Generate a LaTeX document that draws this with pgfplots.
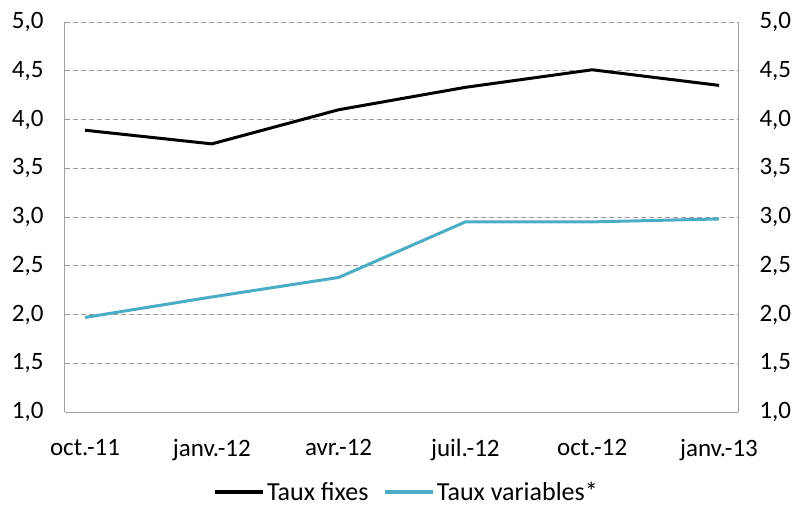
\documentclass[border=0pt]{standalone}
\usepackage{fontspec}
\setmainfont{Carlito}
\usepackage{pgfplots}
\pgfplotsset{compat=1.18}
\definecolor{tauxvar}{HTML}{4BACC6}
\definecolor{gridgray}{HTML}{9A9A9A}
\definecolor{axgray}{HTML}{A0A0A0}
\begin{document}
\begin{tikzpicture}
\path[use as bounding box] (-65pt,-95pt) rectangle (730pt,412pt);
\pgfplotsset{
  common/.style={
    scale only axis, width=673pt, height=390pt,
    at={(0pt,0pt)}, anchor=south west,
    xmin=-0.158, xmax=5.15, ymin=1, ymax=5,
    ytick={1,1.5,2,2.5,3,3.5,4,4.5,5},
    major tick length=0pt,
    tick label style={font=\fontsize{25}{30}\selectfont, text=black},
    /pgf/number format/.cd, fixed, fixed zerofill, precision=1, use comma, assume math mode=true,
  }
}
\begin{axis}[common,
  axis x line*=bottom, axis y line*=left,
  axis line style={axgray, line width=1pt},
  xtick={0,1,2,3,4,5},
  xticklabels={oct.-11,janv.-12,avr.-12,juil.-12,oct.-12,janv.-13},
  xticklabel style={yshift=-24pt},
  yticklabel style={xshift=-18pt},
  ymajorgrids, grid style={gridgray, dash pattern=on 5pt off 3pt, line width=0.8pt},
  legend style={at={(0.507,-0.205)}, anchor=center, draw=none, fill=none,
    legend columns=2, font=\fontsize{26}{30}\selectfont,
    /tikz/every even column/.append style={column sep=12pt}},
  legend image code/.code={\draw[#1, line width=4.5pt] (0pt,0pt) -- (48pt,0pt);},
]
\addplot[black, line width=3pt, line join=round] coordinates {
  (0,3.89) (1,3.75) (2,4.10) (3,4.33) (4,4.51) (5,4.35)};
\addlegendentry{Taux fixes}
\addplot[tauxvar, line width=3pt, line join=round] coordinates {
  (0,1.97) (1,2.18) (2,2.38) (3,2.95) (4,2.95) (5,2.98)};
\addlegendentry{Taux variables*}
\end{axis}
\begin{axis}[common,
  axis x line=none, axis y line*=right,
  axis line style={axgray, line width=1pt},
  yticklabel style={xshift=18pt},
]
\end{axis}
\end{tikzpicture}
\end{document}
